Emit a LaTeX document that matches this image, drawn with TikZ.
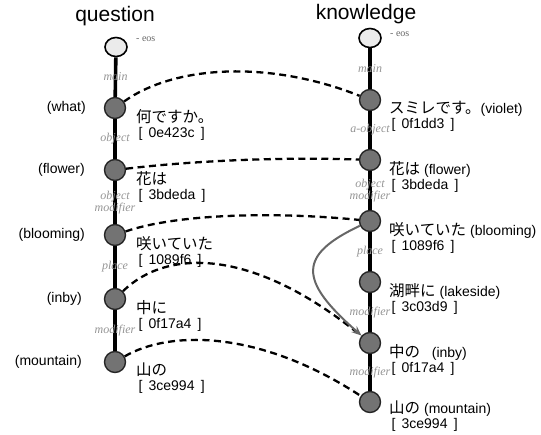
\documentclass[tikz,border=0pt]{standalone}
\usepackage{fontspec}
\setmainfont{Liberation Sans}
\newfontfamily\jp{Noto Sans CJK JP}
\newfontfamily\lbf{Liberation Serif}
\usetikzlibrary{arrows.meta,shapes.geometric}
\begin{document}
\begin{tikzpicture}[x=1pt,y=-1pt,
  word/.style={circle, draw=black!85, fill=black!55, line width=1.4pt, minimum size=21pt, inner sep=0pt},
  root/.style={ellipse, draw=black, fill=black!8, line width=1.6pt, minimum width=22pt, minimum height=19pt, inner sep=0pt},
  stem/.style={line width=3.6pt, black},
  rel/.style={font=\lbf\itshape\fontsize{12}{10.5}\selectfont, text=black!42, midway, inner sep=0pt, align=center},
  link/.style={dash pattern=on 7pt off 4.5pt, line width=2.3pt},
  ttl/.style={font=\fontsize{21}{21}\selectfont},
  side/.style={font=\fontsize{14}{14}\selectfont, anchor=east, inner sep=0pt},
  info/.style={anchor=north west, align=left, inner sep=0pt, font=\fontsize{14}{15}\selectfont},
  eos/.style={font=\lbf\fontsize{10}{10}\selectfont, text=black!60, anchor=west, inner sep=0pt}]
\useasboundingbox (0,0) rectangle (541,434);
\newcommand{\jt}[1]{{\jp\fontsize{15.5}{15}\selectfont #1}}
\newcommand{\hx}[1]{\,[\ \,#1\ \,]}

% titles
\node[ttl] (tq) at (115,16) {question};
\node[ttl] (tk) at (366,14) {knowledge};

% question column
\node[root] (q0) at (116,47) {};
\node[word] (q1) at (115,108) {};
\node[word] (q2) at (115,170) {};
\node[word] (q3) at (115,235) {};
\node[word] (q4) at (115,299) {};
\node[word] (q5) at (115,362) {};

% knowledge column
\node[root] (k0) at (370,38) {};
\node[word] (k1) at (370,100) {};
\node[word] (k2) at (370,160) {};
\node[word] (k3) at (370,221) {};
\node[word] (k4) at (370,282) {};
\node[word] (k5) at (370,343) {};
\node[word] (k6) at (370,402) {};

\node[eos] (qe) at (136,39) {- eos};
\node[eos] (ke) at (390,34) {- eos};

% stems
\draw[stem] (q0) -- node[rel] {main} (q1);
\draw[stem] (q1) -- node[rel] {object} (q2);
\draw[stem] (q2) -- node[rel] {object\\modifier} (q3);
\draw[stem] (q3) -- node[rel] {place} (q4);
\draw[stem] (q4) -- node[rel] {modifier} (q5);

\draw[stem] (k0) -- node[rel] {main} (k1);
\draw[stem] (k1) -- node[rel] {a-object} (k2);
\draw[stem] (k2) -- node[rel] {object\\modifier} (k3);
\draw[stem] (k3) -- node[rel] {place} (k4);
\draw[stem] (k4) -- node[rel] {modifier} (k5);
\draw[stem] (k5) -- node[rel] {modifier} (k6);

% side labels
\node[side] (sq1) at (86,108) {(what)};
\node[side] (sq2) at (85,170) {(flower)};
\node[side] (sq3) at (85,235) {(blooming)};
\node[side] (sq4) at (82,299) {(inby)};
\node[side] (sq5) at (82,362) {(mountain)};

% info labels
\node[info] (iq1) at (136,109) {\jt{何ですか。}\\\hx{0e423c}};
\node[info] (iq2) at (136,171) {\jt{花は}\\\hx{3bdeda}};
\node[info] (iq3) at (136,236) {\jt{咲いていた}\\\hx{1089f6}};
\node[info] (iq4) at (136,300) {\jt{中に}\\\hx{0f17a4}};
\node[info] (iq5) at (136,363) {\jt{山の}\\\hx{3ce994}};

\node[info] (ik1) at (389,101) {\jt{スミレです。}(violet)\\\hx{0f1dd3}};
\node[info] (ik2) at (389,161) {\jt{花は} (flower)\\\hx{3bdeda}};
\node[info] (ik3) at (389,222) {\jt{咲いていた} (blooming)\\\hx{1089f6}};
\node[info] (ik4) at (389,283) {\jt{湖畔に} (lakeside)\\\hx{3c03d9}};
\node[info] (ik5) at (389,344) {\jt{中の}\ \ \ (inby)\\\hx{0f17a4}};
\node[info] (ik6) at (389,401) {\jt{山の} (mountain)\\\hx{3ce994}};

% dashed correspondences
\draw[link] (q1) .. controls (175,65) and (270,60) .. (k1);
\draw[link] (q2) .. controls (200,160) and (290,157) .. (k2);
\draw[link] (q3) .. controls (180,213) and (280,212) .. (k3);
\draw[link] (q4) .. controls (165,250) and (250,245) .. (k5);
\draw[link] (q5) .. controls (170,330) and (260,330) .. (k6);

% gray arrow
\draw[line width=2pt, black!60, -{Stealth[length=10pt,width=8pt]}] (k3) .. controls (298,255) and (298,280) .. (k5);
\end{tikzpicture}
\end{document}
